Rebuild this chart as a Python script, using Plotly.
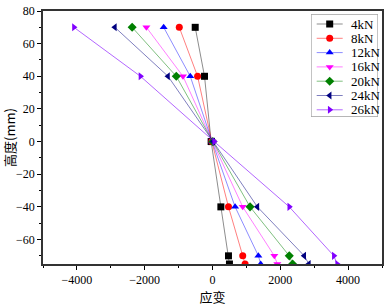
import plotly.graph_objects as go

heights = [70, 40, 0, -40, -70, -75]
series_names = ["4kN", "8kN", "12kN", "16kN", "20kN", "24kN", "26kN"]
strain_4kN = [-510, -235, -40, 247, 471, 500]
strain_8kN = [-980, -440, -20, 471, 892, 961]
strain_12kN = [-1440, -656, -10, 667, 1353, 1422]
strain_16kN = [-1950, -871, 0, 892, 1824, 1912]
strain_20kN = [-2370, -1068, 10, 1108, 2265, 2363]
strain_24kN = [-2880, -1312, 20, 1324, 2706, 2843]
strain_26kN = [-4088, -2126, 50, 2265, 3579, 3676]
series_values = [strain_4kN, strain_8kN, strain_12kN, strain_16kN,
                 strain_20kN, strain_24kN, strain_26kN]

marker_colors = ["#000000", "#FF0000", "#0000FF", "#FF00FF", "#008000", "#000080", "#8000FF"]
line_colors = ["rgba(0,0,0,0.45)", "rgba(255,0,0,0.5)", "rgba(0,0,255,0.45)",
               "rgba(255,0,255,0.5)", "rgba(0,128,0,0.5)", "rgba(0,0,128,0.5)",
               "rgba(128,0,255,0.6)"]
symbols = ["square", "circle", "triangle-up", "triangle-down", "diamond",
           "triangle-left", "triangle-right"]

font_family = "Liberation Serif, 'Noto Sans CJK SC', serif"

W, H = 391, 306
ML, MR, MT, MB = 43, 9, 11, 42
PW, PH = W - ML - MR, H - MT - MB

# compact legend box (pixel positions in the figure)
LX0, LX1, LY0, LY1 = 311, 378, 14.3, 116.7
ROW0, ROWSTEP = 24, 14.3
SEG_X0, SEG_X1, MARK_X, TEXT_X = 316.7, 342.7, 329.7, 349

fig = go.Figure()
for name, vals, mc, lc, sym in zip(series_names, series_values, marker_colors, line_colors, symbols):
    fig.add_trace(go.Scatter(
        x=vals, y=heights, mode="lines+markers", name=name,
        line=dict(color=lc, width=1),
        marker=dict(color=mc, symbol=sym, size=7, line=dict(width=0)),
        showlegend=False,
    ))

# legend drawn in its own small axis
for i, (name, mc, lc, sym) in enumerate(zip(series_names, marker_colors, line_colors, symbols)):
    yc = ROW0 + i * ROWSTEP
    fig.add_trace(go.Scatter(
        x=[SEG_X0, SEG_X1], y=[yc, yc], mode="lines", xaxis="x2", yaxis="y2",
        line=dict(color=lc, width=1), showlegend=False, hoverinfo="skip",
    ))
    fig.add_trace(go.Scatter(
        x=[MARK_X], y=[yc], mode="markers", xaxis="x2", yaxis="y2",
        marker=dict(color=mc, symbol=sym, size=7, line=dict(width=0)),
        showlegend=False, hoverinfo="skip",
    ))
    fig.add_annotation(
        x=TEXT_X, y=yc, xref="x2", yref="y2", text=name, showarrow=False,
        xanchor="left", yanchor="middle", font=dict(family=font_family, size=13, color="black"),
    )

fig.add_shape(type="rect", xref="x2", yref="y2", x0=LX0, x1=LX1, y0=LY0, y1=LY1,
              line=dict(color="#888888", width=1), fillcolor="rgba(255,255,255,0)", layer="above")

fig.update_layout(
    width=W, height=H,
    margin=dict(l=ML, r=MR, t=MT, b=MB, autoexpand=False),
    paper_bgcolor="white", plot_bgcolor="white",
    font=dict(family=font_family, size=12, color="black"),
    showlegend=False,
    xaxis=dict(
        range=[-5000, 5000], tickvals=[-4000, -2000, 0, 2000, 4000],
        ticks="outside", ticklen=4, tickwidth=1, tickcolor="black",
        minor=dict(tickvals=[-5000, -3000, -1000, 1000, 3000, 5000], ticks="outside", ticklen=2, tickcolor="black"),
        showline=True, linecolor="#333333", linewidth=1.5, mirror=True,
        showgrid=False, zeroline=False, automargin=False,
        title=dict(text="应变", font=dict(family="'Noto Sans CJK SC'", size=13), standoff=2),
        tickfont=dict(size=12),
    ),
    yaxis=dict(
        range=[-75, 80], tickvals=[-60, -40, -20, 0, 20, 40, 60, 80],
        ticks="outside", ticklen=4, tickwidth=1, tickcolor="black",
        minor=dict(tickvals=[-70, -50, -30, -10, 10, 30, 50, 70], ticks="outside", ticklen=2, tickcolor="black"),
        showline=True, linecolor="#333333", linewidth=1.5, mirror=True,
        showgrid=False, zeroline=False, automargin=False,
        title=dict(text="高度(mm)", font=dict(family="'Noto Sans CJK SC'", size=13), standoff=2),
        tickfont=dict(size=12),
    ),
    xaxis2=dict(
        domain=[(LX0 - ML) / PW, (LX1 - ML) / PW], range=[LX0, LX1],
        visible=False, fixedrange=True, anchor="y2",
    ),
    yaxis2=dict(
        domain=[(H - MB - LY1) / PH, (H - MB - LY0) / PH], range=[LY1, LY0],
        visible=False, fixedrange=True, anchor="x2",
    ),
)

fig.write_html("out.html", config={"displayModeBar": False},
               post_script="document.body.style.margin='0';")
